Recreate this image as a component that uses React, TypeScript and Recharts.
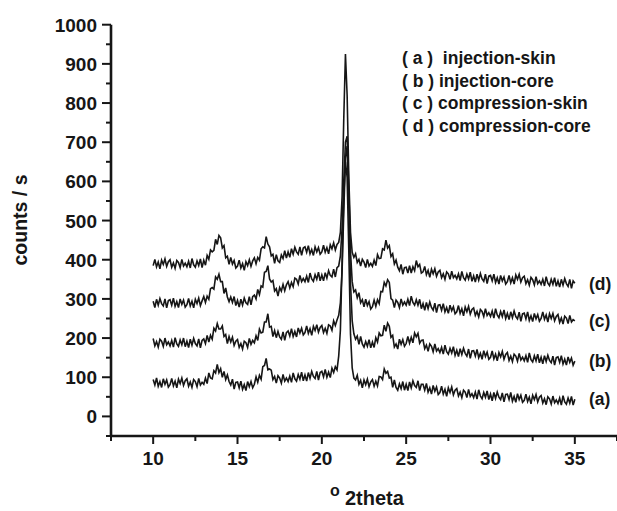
import React from 'react';
import { LineChart, Line, XAxis, YAxis, Customized } from 'recharts';

const twoTheta = [
  10, 10.1, 10.2, 10.3, 10.4, 10.5, 10.6, 10.7, 10.8, 10.9,
  11, 11.1, 11.2, 11.3, 11.4, 11.5, 11.6, 11.7, 11.8, 11.9,
  12, 12.1, 12.2, 12.3, 12.4, 12.5, 12.6, 12.7, 12.8, 12.9,
  13, 13.1, 13.2, 13.3, 13.4, 13.5, 13.6, 13.7, 13.8, 13.9,
  14, 14.1, 14.2, 14.3, 14.4, 14.5, 14.6, 14.7, 14.8, 14.9,
  15, 15.1, 15.2, 15.3, 15.4, 15.5, 15.6, 15.7, 15.8, 15.9,
  16, 16.1, 16.2, 16.3, 16.4, 16.5, 16.6, 16.7, 16.8, 16.9,
  17, 17.1, 17.2, 17.3, 17.4, 17.5, 17.6, 17.7, 17.8, 17.9,
  18, 18.1, 18.2, 18.3, 18.4, 18.5, 18.6, 18.7, 18.8, 18.9,
  19, 19.1, 19.2, 19.3, 19.4, 19.5, 19.6, 19.7, 19.8, 19.9,
  20, 20.1, 20.2, 20.3, 20.4, 20.5, 20.6, 20.7, 20.8, 20.9,
  21, 21.1, 21.2, 21.3, 21.4, 21.5, 21.6, 21.7, 21.8, 21.9,
  22, 22.1, 22.2, 22.3, 22.4, 22.5, 22.6, 22.7, 22.8, 22.9,
  23, 23.1, 23.2, 23.3, 23.4, 23.5, 23.6, 23.7, 23.8, 23.9,
  24, 24.1, 24.2, 24.3, 24.4, 24.5, 24.6, 24.7, 24.8, 24.9,
  25, 25.1, 25.2, 25.3, 25.4, 25.5, 25.6, 25.7, 25.8, 25.9,
  26, 26.1, 26.2, 26.3, 26.4, 26.5, 26.6, 26.7, 26.8, 26.9,
  27, 27.1, 27.2, 27.3, 27.4, 27.5, 27.6, 27.7, 27.8, 27.9,
  28, 28.1, 28.2, 28.3, 28.4, 28.5, 28.6, 28.7, 28.8, 28.9,
  29, 29.1, 29.2, 29.3, 29.4, 29.5, 29.6, 29.7, 29.8, 29.9,
  30, 30.1, 30.2, 30.3, 30.4, 30.5, 30.6, 30.7, 30.8, 30.9,
  31, 31.1, 31.2, 31.3, 31.4, 31.5, 31.6, 31.7, 31.8, 31.9,
  32, 32.1, 32.2, 32.3, 32.4, 32.5, 32.6, 32.7, 32.8, 32.9,
  33, 33.1, 33.2, 33.3, 33.4, 33.5, 33.6, 33.7, 33.8, 33.9,
  34, 34.1, 34.2, 34.3, 34.4, 34.5, 34.6, 34.7, 34.8, 34.9,
  35,
];

// (a) injection-skin
const seriesA = [
  94, 80, 98, 77, 89, 74, 96, 82, 93, 75,
  81, 97, 78, 90, 73, 95, 84, 98, 79, 91,
  96, 77, 88, 74, 94, 89, 76, 97, 80, 87,
  82, 98, 84, 111, 98, 96, 117, 111, 133, 112,
  122, 100, 115, 94, 106, 89, 80, 95, 70, 87,
  88, 73, 90, 69, 81, 66, 89, 76, 89, 73,
  82, 101, 87, 105, 95, 127, 130, 148, 119, 121,
  118, 94, 102, 85, 104, 98, 85, 107, 90, 98,
  89, 103, 87, 111, 96, 90, 107, 95, 113, 91,
  106, 90, 112, 97, 115, 102, 97, 115, 93, 112,
  115, 101, 120, 100, 113, 99, 123, 112, 127, 119,
  154, 220, 390, 560, 650, 610, 420, 210, 124, 98,
  93, 105, 82, 92, 73, 93, 81, 95, 76, 88,
  94, 77, 90, 78, 102, 101, 94, 121, 110, 115,
  98, 100, 74, 93, 74, 67, 83, 71, 89, 67,
  82, 66, 88, 73, 91, 79, 74, 91, 66, 82,
  82, 67, 84, 62, 73, 57, 79, 64, 75, 56,
  61, 77, 57, 69, 51, 73, 61, 75, 55, 67,
  71, 52, 62, 48, 67, 62, 48, 69, 51, 58,
  48, 62, 44, 68, 52, 45, 61, 49, 65, 43,
  57, 40, 61, 46, 62, 49, 43, 60, 37, 56,
  57, 43, 61, 39, 51, 36, 58, 43, 54, 36,
  41, 57, 38, 49, 32, 54, 43, 56, 37, 49,
  53, 34, 45, 30, 50, 45, 32, 52, 35, 42,
  33, 47, 29, 53, 37, 31, 47, 34, 51, 29,
  44,
];

// (b) injection-core
const seriesB = [
  199, 180, 191, 177, 197, 192, 179, 200, 183, 190,
  180, 194, 177, 201, 185, 179, 195, 183, 200, 178,
  192, 176, 197, 182, 199, 186, 180, 198, 175, 194,
  198, 186, 207, 190, 207, 197, 225, 218, 237, 223,
  223, 231, 204, 209, 186, 204, 190, 202, 181, 192,
  196, 176, 186, 172, 192, 188, 176, 199, 184, 194,
  188, 206, 194, 223, 213, 215, 241, 241, 262, 228,
  230, 204, 219, 201, 217, 203, 197, 216, 194, 214,
  218, 205, 224, 204, 217, 203, 226, 213, 225, 208,
  214, 231, 212, 224, 207, 230, 219, 234, 215, 227,
  232, 214, 225, 212, 234, 231, 220, 244, 232, 246,
  258, 290, 370, 520, 660, 690, 540, 340, 244, 211,
  197, 205, 184, 204, 185, 177, 191, 179, 196, 175,
  190, 176, 201, 190, 213, 206, 207, 233, 217, 238,
  230, 202, 207, 177, 185, 172, 197, 184, 196, 179,
  186, 204, 187, 202, 188, 213, 203, 212, 187, 194,
  195, 173, 182, 166, 185, 179, 165, 185, 167, 173,
  163, 176, 159, 182, 165, 159, 174, 162, 178, 156,
  169, 153, 173, 158, 174, 161, 154, 172, 148, 167,
  168, 154, 171, 150, 161, 146, 168, 153, 164, 146,
  151, 167, 147, 159, 142, 163, 152, 166, 146, 158,
  163, 143, 154, 140, 159, 154, 141, 161, 144, 151,
  142, 155, 138, 162, 145, 139, 155, 142, 159, 137,
  151, 134, 155, 140, 156, 143, 137, 154, 131, 150,
  152, 138, 155, 134, 146, 131, 152, 138, 149, 131,
  141,
];

// (c) compression-skin
const seriesC = [
  294, 278, 299, 284, 301, 288, 282, 300, 277, 296,
  298, 284, 302, 281, 293, 278, 300, 286, 297, 279,
  285, 301, 282, 294, 277, 299, 288, 302, 283, 295,
  306, 291, 307, 299, 326, 329, 325, 356, 350, 363,
  344, 344, 314, 328, 305, 293, 305, 291, 306, 283,
  296, 279, 299, 284, 302, 290, 286, 306, 285, 306,
  310, 300, 324, 311, 333, 330, 368, 370, 385, 351,
  343, 347, 320, 326, 307, 329, 320, 337, 321, 336,
  344, 328, 342, 331, 353, 350, 338, 360, 344, 352,
  344, 358, 342, 366, 351, 345, 362, 350, 368, 346,
  361, 346, 367, 353, 372, 360, 356, 376, 356, 380,
  384, 410, 480, 600, 700, 715, 580, 420, 344, 318,
  323, 303, 316, 290, 298, 280, 299, 283, 293, 274,
  280, 297, 281, 298, 288, 319, 318, 342, 333, 349,
  342, 301, 297, 278, 297, 291, 278, 300, 284, 292,
  284, 299, 283, 307, 291, 284, 298, 284, 299, 275,
  288, 271, 291, 275, 292, 278, 271, 289, 265, 284,
  285, 271, 288, 267, 278, 263, 284, 270, 280, 262,
  267, 283, 263, 275, 257, 279, 267, 281, 261, 273,
  277, 258, 268, 254, 273, 268, 255, 275, 258, 265,
  255, 269, 251, 275, 259, 252, 268, 255, 272, 250,
  263, 247, 267, 252, 269, 255, 249, 266, 243, 262,
  264, 249, 267, 245, 257, 242, 263, 249, 260, 243,
  250, 267, 248, 259, 241, 262, 250, 263, 244, 255,
  260, 240, 251, 236, 256, 251, 237, 258, 241, 247,
  244,
];

// (d) compression-core
const seriesD = [
  385, 401, 382, 394, 377, 399, 388, 402, 383, 395,
  400, 381, 392, 378, 398, 393, 380, 401, 384, 391,
  382, 396, 379, 403, 387, 381, 397, 385, 402, 380,
  399, 386, 411, 401, 425, 420, 424, 452, 439, 462,
  456, 430, 436, 405, 409, 388, 406, 389, 398, 379,
  384, 399, 379, 390, 373, 395, 385, 400, 383, 397,
  405, 390, 406, 399, 428, 433, 430, 459, 440, 433,
  410, 414, 391, 413, 397, 393, 412, 403, 423, 404,
  420, 406, 428, 414, 432, 420, 414, 433, 411, 430,
  433, 419, 436, 415, 426, 411, 433, 420, 431, 414,
  420, 437, 419, 431, 415, 438, 428, 443, 425, 439,
  444, 470, 560, 760, 925, 820, 610, 470, 419, 406,
  415, 393, 401, 384, 401, 394, 380, 401, 384, 391,
  383, 399, 385, 413, 403, 404, 428, 425, 450, 430,
  436, 408, 415, 389, 399, 381, 372, 388, 363, 380,
  381, 366, 385, 366, 382, 372, 398, 382, 388, 366,
  369, 383, 362, 373, 355, 376, 364, 377, 358, 369,
  373, 354, 364, 350, 369, 364, 350, 371, 354, 360,
  351, 364, 347, 370, 354, 348, 363, 351, 368, 345,
  359, 343, 363, 348, 365, 351, 345, 363, 339, 358,
  360, 346, 363, 342, 354, 338, 360, 346, 356, 338,
  344, 360, 341, 354, 338, 361, 350, 363, 343, 354,
  358, 339, 349, 335, 355, 349, 336, 357, 339, 346,
  337, 350, 333, 357, 340, 334, 350, 337, 354, 332,
  346, 330, 350, 335, 352, 339, 332, 350, 327, 346,
  340,
];

const xTicks = [7.5, 10, 12.5, 15, 17.5, 20, 22.5, 25, 27.5, 30, 32.5, 35, 37.5];
const xLabels = [10, 15, 20, 25, 30, 35];
const yTicks = [-50, 0, 50, 100, 150, 200, 250, 300, 350, 400, 450, 500, 550, 600, 650, 700, 750, 800, 850, 900, 950, 1000];
const yLabels = [0, 100, 200, 300, 400, 500, 600, 700, 800, 900, 1000];

const legendLines = ['( a )  injection-skin', '( b ) injection-core', '( c ) compression-skin', '( d ) compression-core'];
const curveLabels = ['(d)', '(c)', '(b)', '(a)'];
const xTitle = '2theta';
const yTitle = 'counts / s';

const data = twoTheta.map((x, i) => ({ x, a: seriesA[i], b: seriesB[i], c: seriesC[i], d: seriesD[i] }));

const INK = '#161616';
const font = (size: number): React.CSSProperties => ({
  fontFamily: '"Liberation Sans", Arial, Helvetica, sans-serif',
  fontWeight: 'bold',
  fontSize: size,
  fill: INK,
});

const XTick = (props: any) => {
  const { x, y, payload } = props;
  const v = payload.value;
  const major = xLabels.includes(v);
  return (
    <g>
      <line x1={x} y1={y} x2={x} y2={y + (major ? 8 : 5)} stroke={INK} strokeWidth={2} />
      {major && (
        <text x={x} y={y + 29} textAnchor="middle" style={font(19)}>
          {v}
        </text>
      )}
    </g>
  );
};

const YTick = (props: any) => {
  const { x, y, payload } = props;
  const v = payload.value;
  const major = yLabels.includes(v);
  return (
    <g>
      <line x1={x - (major ? 9 : 5)} y1={y} x2={x} y2={y} stroke={INK} strokeWidth={2} />
      {major && (
        <text x={x - 14} y={y + 7} textAnchor="end" style={font(19)}>
          {v}
        </text>
      )}
    </g>
  );
};

const Annotations = () => (
  <g>
    {legendLines.map((t, i) => (
      <text key={t} x={402} y={64 + i * 22.7} style={{ ...font(17.5), whiteSpace: 'pre' }}>
        {t}
      </text>
    ))}
    {curveLabels.map((t, i) => (
      <text key={t} x={589} y={[290, 327, 367, 405][i]} style={font(17.5)}>
        {t}
      </text>
    ))}
    <text x={27} y={220} transform="rotate(-90 27 220)" textAnchor="middle" style={font(19.5)}>
      {yTitle}
    </text>
    <text x={330} y={496} style={font(16)}>o</text>
    <text x={345} y={505} style={font(20)}>{xTitle}</text>
  </g>
);

export default function App() {
  return (
    <div style={{ position: 'absolute', left: 0, top: 0, width: 617, height: 511, background: '#fff' }}>
      <LineChart width={617} height={511} data={data} margin={{ top: 24.7, right: 0, bottom: 45, left: 0 }}>
        <XAxis
          dataKey="x"
          type="number"
          domain={[7.5, 37.5]}
          ticks={xTicks}
          interval={0}
          allowDataOverflow
          height={30}
          tickSize={0}
          tickMargin={0}
          tickLine={false}
          tick={<XTick />}
          axisLine={{ stroke: INK, strokeWidth: 2.6 }}
        />
        <YAxis
          type="number"
          domain={[-50, 1000]}
          ticks={yTicks}
          interval={0}
          allowDataOverflow
          width={111}
          tickSize={0}
          tickMargin={0}
          tickLine={false}
          tick={<YTick />}
          axisLine={{ stroke: INK, strokeWidth: 2.6 }}
        />
        <Line type="linear" dataKey="a" stroke={INK} strokeWidth={1.6} dot={false} isAnimationActive={false} />
        <Line type="linear" dataKey="b" stroke={INK} strokeWidth={1.6} dot={false} isAnimationActive={false} />
        <Line type="linear" dataKey="c" stroke={INK} strokeWidth={1.6} dot={false} isAnimationActive={false} />
        <Line type="linear" dataKey="d" stroke={INK} strokeWidth={1.6} dot={false} isAnimationActive={false} />
        <Customized component={Annotations} />
      </LineChart>
    </div>
  );
}
